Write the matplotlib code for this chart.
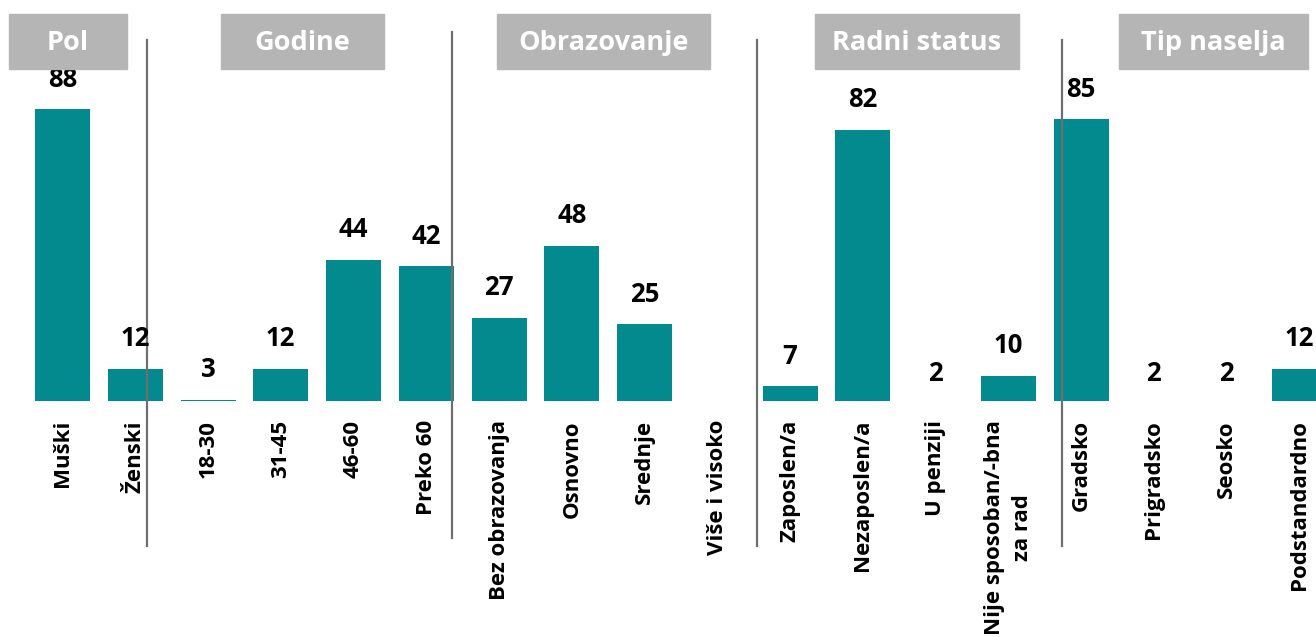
import numpy as np
import matplotlib
matplotlib.use('Agg')
from matplotlib import pyplot as plt
from matplotlib.patches import Rectangle
import matplotlib.transforms as mtransforms

plt.rcParams['font.family'] = ['Open Sans', 'DejaVu Sans']

# kategorije i vrijednosti (%)
kategorije = ['Muški', 'Ženski', '18-30', '31-45', '46-60', 'Preko 60',
              'Bez obrazovanja', 'Osnovno', 'Srednje', 'Više i visoko',
              'Zaposlen/a', 'Nezaposlen/a', 'U penziji', 'Nije sposoban/-bna\nza rad',
              'Gradsko', 'Prigradsko', 'Seosko', 'Podstandardno']
vrijednosti = [88, 12, 3, 12, 44, 42, 27, 48, 25, np.nan,
               7, 82, 2, 10, 85, 2, 2, 12]

grupe = ['Pol', 'Godine', 'Obrazovanje', 'Radni status', 'Tip naselja']

boja = '#038a8e'
W, H = 1316, 637

fig = plt.figure(figsize=(W / 100, H / 100), dpi=100)
ax = fig.add_axes([0, 236 / H, 1, 401 / H])

x = np.arange(len(kategorije))
ax.bar(x, np.nan_to_num(vrijednosti), width=0.756, color=boja)

ax.set_xlim(-0.859, 17.228)
ax.set_ylim(2.63, 2.63 + 401 / 3.42)

# vrijednosti iznad stubaca
for xi, v in zip(x, vrijednosti):
    if np.isnan(v):
        continue
    ax.annotate(f'{v:.0f}', (xi, v), xytext=(0, 21.6), textcoords='offset points',
                ha='center', va='center', fontsize=18.5, fontweight='bold',
                annotation_clip=False)

ax.set_xticks(x)
ax.set_xticklabels(kategorije, rotation=90, fontsize=16, fontweight='bold',
                   va='top', ha='center', multialignment='center',
                   linespacing=1.45)
ax.tick_params(axis='x', length=0, pad=13.7)
ax.set_yticks([])
for s in ax.spines.values():
    s.set_visible(False)

# vertikalne linije izmedju grupa
trans = mtransforms.blended_transform_factory(ax.transData, ax.transAxes)
linije_x = [1.161, 5.353, 9.545, 13.737]
linije_y = [(0.900, -0.362), (0.920, -0.342), (0.900, -0.362), (0.900, -0.362)]
for lx, (y1, y2) in zip(linije_x, linije_y):
    ax.plot([lx, lx], [y1, y2], color='#6e6e6e', lw=1.6, transform=trans,
            clip_on=False)

# sivi naslovi grupa
kutije = [(9, 118), (221, 163), (497, 213), (815, 204), (1119, 189)]
for naziv, (lx, sir) in zip(grupe, kutije):
    fig.patches.append(Rectangle((lx / W, 1 - 69 / H), sir / W, 55 / H,
                                 transform=fig.transFigure, color='#b5b5b5'))
    fig.text((lx + sir / 2) / W, 1 - 43 / H, naziv, ha='center', va='center',
             color='white', fontsize=19.5, fontweight='bold')

plt.savefig('out.png', dpi=100)
